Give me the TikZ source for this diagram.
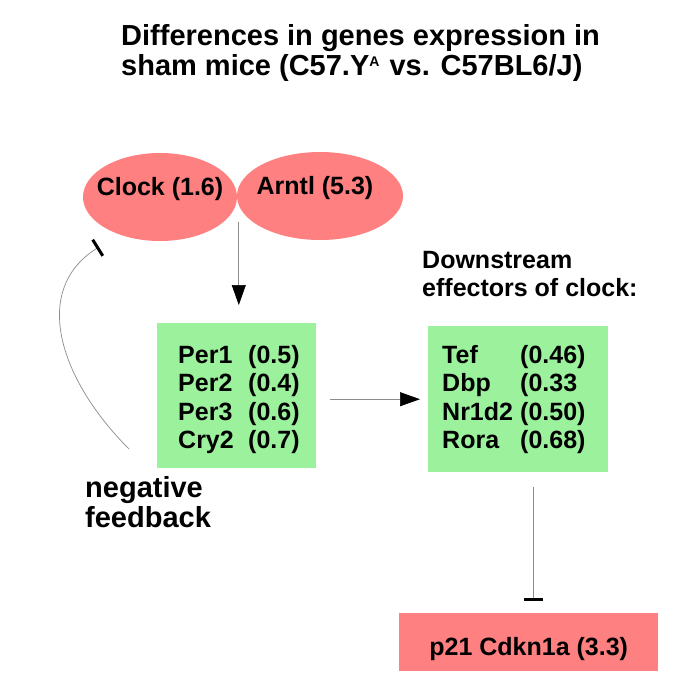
\documentclass[tikz,border=0pt]{standalone}
\usepackage{fontspec}
\setmainfont{Liberation Sans}
\usetikzlibrary{arrows.meta,shapes.geometric,calc}
\definecolor{salmon}{RGB}{255,128,128}
\definecolor{lgreen}{RGB}{156,242,156}
\begin{document}
\begin{tikzpicture}[x=1pt,y=-1pt,
  lbl/.style={font=\fontsize{25}{28.5}\selectfont\bfseries, inner sep=0pt},
  biglbl/.style={font=\fontsize{29}{30}\selectfont\bfseries, inner sep=0pt},
  ttl/.style={font=\fontsize{29}{30.5}\selectfont\bfseries, inner sep=0pt},
  gene/.style={ellipse, fill=salmon, inner sep=0pt, lbl, text height=6pt, text depth=9pt},
  gbox/.style={fill=lgreen, inner sep=0pt, lbl, anchor=north west},
  rbox/.style={fill=salmon, inner sep=0pt, lbl, anchor=north west},
  conn/.style={draw=black!45, line width=0.7pt},
  act/.style={conn, -{Triangle[length=20pt,width=14pt,color=black]}},
  inh/.style={conn, -{Bar[width=19pt,line width=3pt,color=black]}},
]
\fill[white] (0,0) rectangle (685,697);
\useasboundingbox (0,0) rectangle (685,697);

% title
\node[ttl, anchor=base west] (title) at (121,45)
  {\begin{tabular}[t]{@{}l@{}}Differences in genes expression in\\
   sham mice (C57.Y\raisebox{9pt}{\fontsize{14}{14}\selectfont A}\kern2pt{} vs. C57BL6/J)\end{tabular}};

% clock genes
\node[gene, minimum width=154pt, minimum height=88pt] (clock) at (160,197)
  {\makebox[0pt]{Clock (1.6)}};
\node[gene, minimum width=166pt, minimum height=88pt] (arntl) at (320,196)
  {\makebox[0pt]{\kern-10pt Arntl (5.3)}};

% Per/Cry box
\node[gbox, text height=40pt, text depth=105pt] (per) at (157,323)
  {\begin{tabular}[t]{@{\hspace{21pt}}p{70pt}@{}p{68pt}@{}}
   Per1 & (0.5)\\ Per2 & (0.4)\\ Per3 & (0.6)\\ Cry2 & (0.7)\end{tabular}};

% downstream effectors
\node[lbl, anchor=base west] (downlbl) at (422,268)
  {\begin{tabular}[t]{@{}l@{}}Downstream\\effectors of clock:\end{tabular}};
\node[gbox, text height=37pt, text depth=109pt] (eff) at (428,326)
  {\begin{tabular}[t]{@{\hspace{14pt}}p{78pt}@{}p{88pt}@{}}
   Tef & (0.46)\\ Dbp & (0.33\\ Nr1d2 & (0.50)\\ Rora & (0.68)\end{tabular}};

% p21
\node[rbox, minimum width=259pt, text height=42pt, text depth=16pt] (p21) at (399,613)
  {p21 Cdkn1a (3.3)};

% negative feedback label
\node[biglbl, anchor=base west] (neglbl) at (85,497)
  {\begin{tabular}[t]{@{}l@{}}negative\\feedback\end{tabular}};

% connectors
\draw[act, shorten <=26pt, shorten >=18pt]
  ([xshift=2pt]arntl.west) -- ([xshift=2pt]arntl.west |- per.north);
\draw[act, shorten <=14pt, shorten >=8pt] (per.east |- eff.west) -- (eff.west);
\draw[inh, shorten <=15pt, shorten >=12pt]
  ([xshift=4.5pt]p21.north |- eff.south) -- ([xshift=4.5pt]p21.north);

\coordinate (fbstart) at (129,449);
\coordinate (fbend) at (99,247);
\draw[inh] (fbstart) .. controls (60,380) and (30,290) .. (fbend);
\end{tikzpicture}
\end{document}
